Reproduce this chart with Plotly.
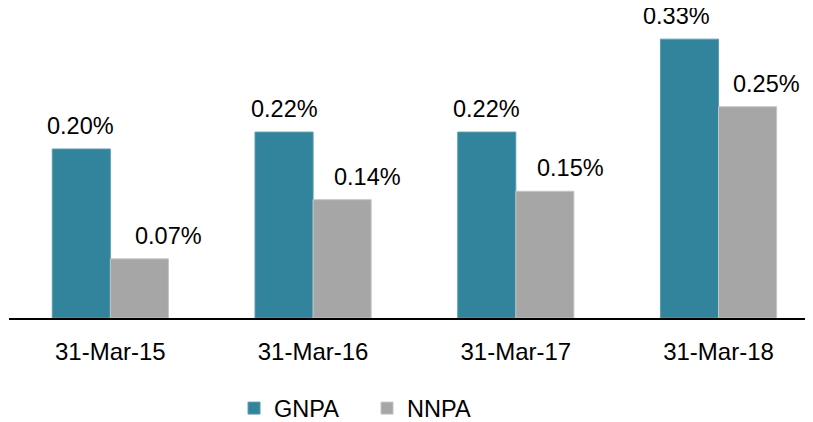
import plotly.graph_objects as go

dates = ['31-Mar-15', '31-Mar-16', '31-Mar-17', '31-Mar-18']
gnpa = [0.20, 0.22, 0.22, 0.33]
nnpa = [0.07, 0.14, 0.15, 0.25]

# small horizontal nudges of the value labels (px), as in the source chart
gnpa_label_dx = [-1, 0, 0, -13]
nnpa_label_dx = [29, 25, 26, 19]

fig = go.Figure()

fig.add_trace(go.Bar(
    x=dates, y=gnpa, name='GNPA',
    marker=dict(color='#31849B', line=dict(color='#5A9DB0', width=1)),
))
fig.add_trace(go.Bar(
    x=dates, y=nnpa, name='NNPA',
    marker=dict(color='#A6A6A6', line=dict(color='#C4C4C4', width=1)),
))

# value labels above the bars
for d, v, dx in zip(dates, gnpa, gnpa_label_dx):
    fig.add_annotation(x=d, y=v, text=f'{v:.2f}%', showarrow=False,
                       xshift=-29 + dx, yshift=8, yanchor='bottom',
                       font=dict(size=23.5, color='black'))
for d, v, dx in zip(dates, nnpa, nnpa_label_dx):
    fig.add_annotation(x=d, y=v, text=f'{v:.2f}%', showarrow=False,
                       xshift=29 + dx, yshift=8, yanchor='bottom',
                       font=dict(size=23.5, color='black'))

fig.update_layout(
    width=805, height=414,
    barmode='group',
    bargap=0.427,
    bargroupgap=0,
    plot_bgcolor='white',
    paper_bgcolor='white',
    font=dict(family='Liberation Sans, Arial, sans-serif', size=24, color='black'),
    margin=dict(l=1, r=0, t=2, b=104),
    xaxis=dict(
        range=[-0.5, 3.466],
        showline=True, linecolor='black', linewidth=2,
        showgrid=False, ticks='', ticklabelstandoff=11,
        tickfont=dict(size=24),
    ),
    yaxis=dict(
        range=[0, 0.3645],
        visible=False,
    ),
    legend=dict(
        orientation='h',
        xref='container', yref='container',
        x=0.446, xanchor='center',
        y=0.033, yanchor='middle',
        font=dict(size=23.5),
        itemwidth=30,
        entrywidth=88,
        traceorder='normal',
    ),
    showlegend=True,
)

fig.write_html("out.html")
